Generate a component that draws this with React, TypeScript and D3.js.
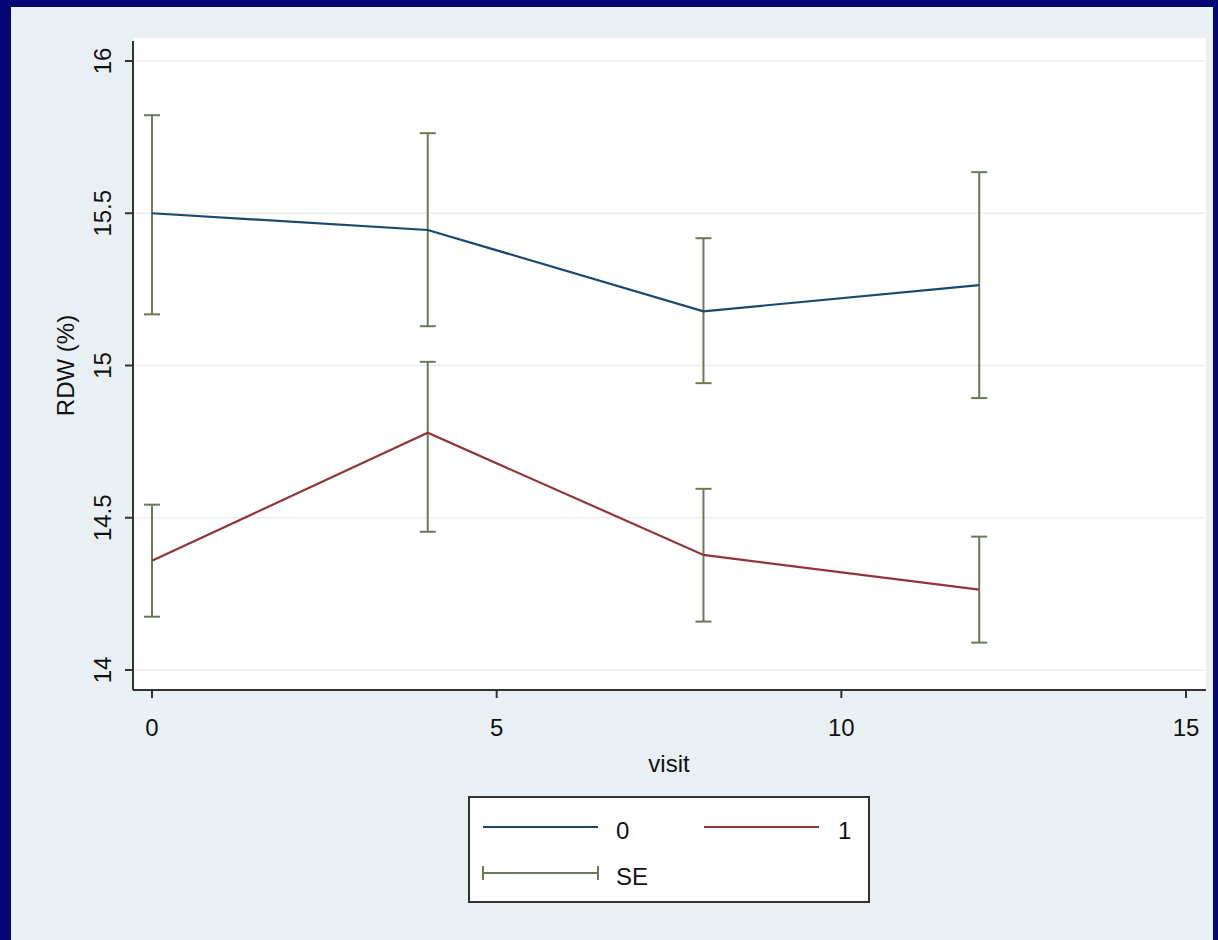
import React from "react";
import * as d3 from "d3";

const visits = [0, 4, 8, 12];
const group0 = [15.5, 15.445, 15.178, 15.264];
const group0Lo = [15.168, 15.129, 14.942, 14.893];
const group0Hi = [15.822, 15.763, 15.418, 15.635];
const group1 = [14.359, 14.779, 14.378, 14.264];
const group1Lo = [14.175, 14.454, 14.159, 14.09];
const group1Hi = [14.543, 15.012, 14.595, 14.438];
const yTicks = [14, 14.5, 15, 15.5, 16];
const xTicks = [0, 5, 10, 15];
const legendLabels = ["0", "1", "SE"];

const W = 1218;
const H = 940;
const BLUE = "#1a476f";
const RED = "#90353b";
const SE = "#6b7a56";
const BG = "#e8f0f3";
const NAVY = "#050574";

export default function App() {
  const x = d3.scaleLinear().domain([0, 15]).range([152, 1186]);
  const y = d3.scaleLinear().domain([14, 16]).range([670, 61]);
  const line = d3
    .line<[number, number]>()
    .x((d) => x(d[0]))
    .y((d) => y(d[1]));
  const font = "Liberation Sans, Arial, sans-serif";
  const plotL = 133;
  const plotR = 1206;
  const plotT = 38;
  const plotB = 690;
  const FS = 24;

  const errBars = (lo: number[], hi: number[], key: string) =>
    visits.map((v, i) => (
      <g key={key + i} stroke={SE} strokeWidth={2}>
        <line x1={x(v)} x2={x(v)} y1={y(hi[i])} y2={y(lo[i])} />
        <line x1={x(v) - 8} x2={x(v) + 8} y1={y(hi[i])} y2={y(hi[i])} />
        <line x1={x(v) - 8} x2={x(v) + 8} y1={y(lo[i])} y2={y(lo[i])} />
      </g>
    ));

  return (
    <svg
      width={W}
      height={H}
      style={{ position: "absolute", left: 0, top: 0 }}
      fontFamily={font}
    >
      <rect x={0} y={0} width={W} height={H} fill={NAVY} />
      <rect x={11} y={7} width={W - 16} height={H - 7} fill={BG} />
      <rect x={plotL} y={plotT} width={plotR - plotL} height={plotB - plotT} fill="#ffffff" />
      {yTicks.map((t) => (
        <line key={"g" + t} x1={plotL} x2={plotR} y1={y(t)} y2={y(t)} stroke="#ececec" strokeWidth={1.5} />
      ))}
      {errBars(group0Lo, group0Hi, "a")}
      {errBars(group1Lo, group1Hi, "b")}
      <path d={line(visits.map((v, i) => [v, group0[i]]) as [number, number][]) || ""} fill="none" stroke={BLUE} strokeWidth={2.2} />
      <path d={line(visits.map((v, i) => [v, group1[i]]) as [number, number][]) || ""} fill="none" stroke={RED} strokeWidth={2.2} />
      <line x1={plotL} x2={plotL} y1={plotT + 3} y2={plotB} stroke="#333" strokeWidth={2} />
      <line x1={plotL} x2={plotR} y1={plotB} y2={plotB} stroke="#333" strokeWidth={2} />
      {yTicks.map((t) => (
        <g key={"yt" + t}>
          <line x1={plotL - 8} x2={plotL} y1={y(t)} y2={y(t)} stroke="#333" strokeWidth={2} />
          <text
            transform={`translate(${plotL - 22},${y(t)}) rotate(-90)`}
            textAnchor="middle"
            fontSize={FS}
            fill="#111"
          >
            {t}
          </text>
        </g>
      ))}
      {xTicks.map((t) => (
        <g key={"xt" + t}>
          <line x1={x(t)} x2={x(t)} y1={plotB} y2={plotB + 8} stroke="#333" strokeWidth={2} />
          <text x={x(t)} y={plotB + 46} textAnchor="middle" fontSize={FS} fill="#111">
            {t}
          </text>
        </g>
      ))}
      <text transform={`translate(74,${y(15)}) rotate(-90)`} textAnchor="middle" fontSize={FS} fill="#111">
        RDW (%)
      </text>
      <text x={669} y={772} textAnchor="middle" fontSize={FS} fill="#111">
        visit
      </text>
      <rect x={469} y={797} width={400} height={105} fill="#fff" stroke="#333" strokeWidth={2} />
      <line x1={483} x2={598} y1={827} y2={827} stroke={BLUE} strokeWidth={2.2} />
      <text x={616} y={839} fontSize={FS} fill="#111">{legendLabels[0]}</text>
      <line x1={704} x2={819} y1={827} y2={827} stroke={RED} strokeWidth={2.2} />
      <text x={838} y={839} fontSize={FS} fill="#111">{legendLabels[1]}</text>
      <g stroke={SE} strokeWidth={2}>
        <line x1={483} x2={598} y1={873} y2={873} />
        <line x1={483} x2={483} y1={866} y2={880} />
        <line x1={598} x2={598} y1={866} y2={880} />
      </g>
      <text x={616} y={885} fontSize={FS} fill="#111">{legendLabels[2]}</text>
    </svg>
  );
}
